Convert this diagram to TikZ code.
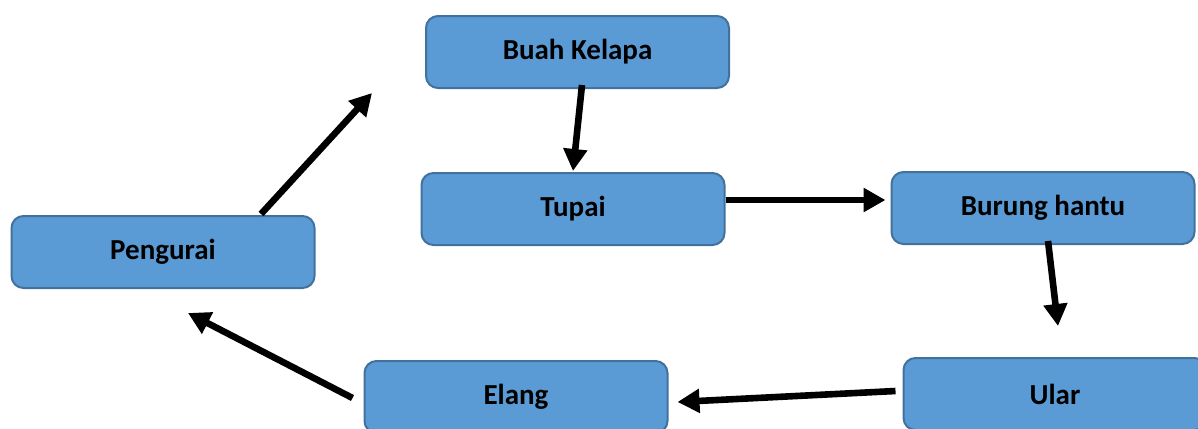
\documentclass[tikz,border=0pt]{standalone}
\usepackage{fontspec}
\setmainfont{Carlito}
\usetikzlibrary{arrows.meta,calc}
\definecolor{boxfill}{HTML}{5B9BD5}
\definecolor{boxline}{HTML}{41719C}
\begin{document}
\begin{tikzpicture}[x=0.5pt, y=-0.5pt,
    box/.style={draw=boxline, fill=boxfill, line width=1pt, rounded corners=6pt, minimum width=151.5pt, minimum height=36pt, inner sep=0pt, font=\fontsize{14.5}{17}\selectfont\bfseries},
    link/.style={line width=3.3pt, -{Triangle[length=11pt,width=11.5pt]}}]
        \useasboundingbox (0,0) rectangle (1198,428);
        \node[box] (kelapa) at (577.5,52) {Buah Kelapa};
        \node[box] (tupai) at (573,209) {Tupai};
        \node[box] (burung) at (1043,208) {Burung hantu};
        \node[box] (pengurai) at (163,252) {Pengurai};
        \node[box] (elang) at (516,397) {Elang};
        \node[box] (ular) at (1055,394) {Ular};
        \coordinate (celah) at (372,93);
        \draw[link] ($(kelapa.south)+(4.5,-4)$) -- ($(tupai.north)+(0,-1)$);
        \draw[link] ($(tupai.east)+(0,-9)$) -- ($(burung.west)+(-5,-8)$);
        \draw[link] ($(burung.south)+(5,-4)$) -- ($(ular.north)+(3,-31)$);
        \draw[link] ($(ular.west)+(-7,-3)$) -- ($(elang.east)+(9,5)$);
        \draw[link] ($(elang.west)+(-11,1)$) -- ($(pengurai.south)+(25,24)$);
        \draw[link] ($(pengurai.north)+(98,-1)$) -- (celah);
    \end{tikzpicture}
\end{document}
